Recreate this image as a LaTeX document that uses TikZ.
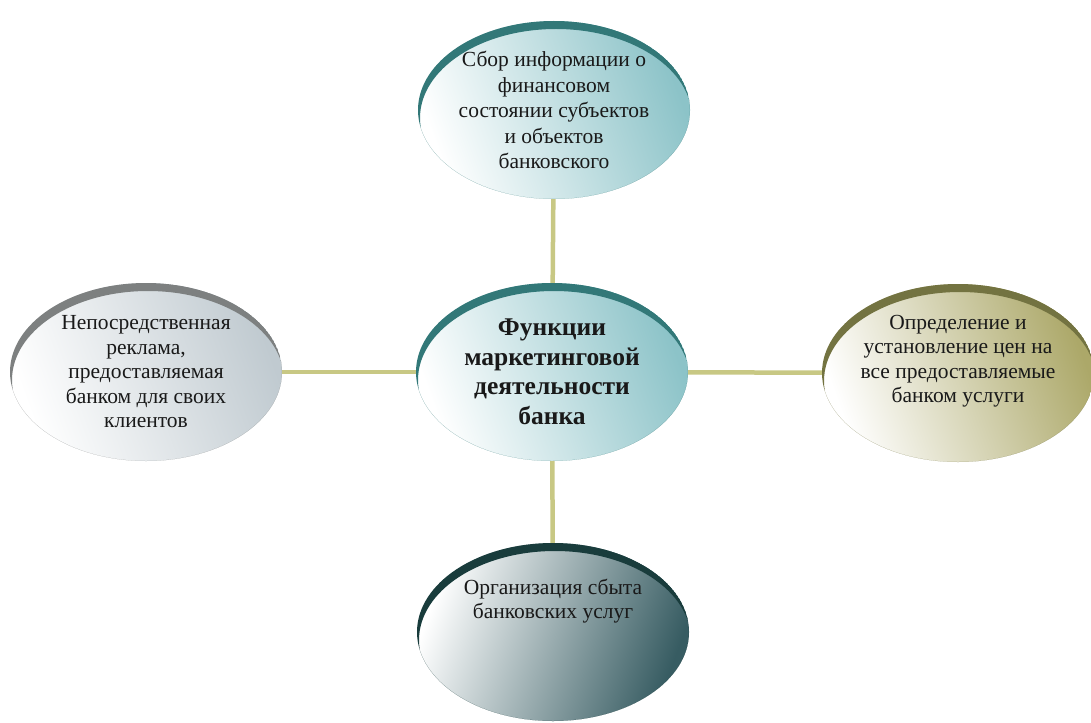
\documentclass[tikz,border=0pt]{standalone}
\usepackage{fontspec}
\setmainfont{Liberation Serif}
\usetikzlibrary{shapes.geometric}

\definecolor{txt}{RGB}{25,25,25}
\definecolor{linkc}{RGB}{200,200,132}
% fill tints and rim colours of the bubbles
\definecolor{fTeal}{RGB}{140,195,200}
\definecolor{rTeal}{RGB}{50,120,120}
\definecolor{fGray}{RGB}{192,202,208}
\definecolor{rGray}{RGB}{125,128,128}
\definecolor{fOlive}{RGB}{172,168,105}
\definecolor{rOlive}{RGB}{115,115,65}
\definecolor{fSlate}{RGB}{55,92,98}
\definecolor{rSlate}{RGB}{25,60,60}

\tikzset{
  % fixed-size bubble; the negative x padding keeps long lines from widening it
  bubble/.style={ellipse, minimum width=272pt, minimum height=178pt,
    inner ysep=0pt, inner xsep=-40pt, align=center, text=txt,
    font=\fontsize{21.5}{24.5}\selectfont},
  % white-to-tint gradient fill
  tint/.style 2 args={top color=#1, middle color=#1!22!white,
    bottom color=white, shading angle=#2},
  % dark crescent along the upper edge of a bubble
  rim/.style={path picture={
    \fill[#1, even odd rule]
      (path picture bounding box.center) ellipse (136pt and 89pt)
      ([shift={(2pt,-8pt)}]path picture bounding box.center) ellipse (136pt and 89pt);}},
  link/.style={draw=linkc, line width=4.5pt},
}

\begin{document}
\begin{tikzpicture}[x=1pt,y=-1pt]
  \useasboundingbox (0,0) rectangle (1091,722);

  \node[bubble, tint={fTeal}{-70}, rim=rTeal,
        font=\fontsize{21.5}{25.5}\selectfont]
    (info) at (554,110)
    {Сбор информации о\\финансовом\\состоянии субъектов\\и объектов\\банковского};

  \node[bubble, tint={fTeal}{-70}, rim=rTeal,
        font=\bfseries\fontsize{25.5}{29.5}\selectfont]
    (core) at (552,372)
    {Функции\\маркетинговой\\деятельности\\банка};

  \node[bubble, tint={fGray}{-70}, rim=rGray]
    (ads) at (146,372)
    {Непосредственная\\реклама,\\предоставляемая\\банком для своих\\клиентов};

  \node[bubble, tint={fOlive}{-70}, rim=rOlive, text depth=28pt]
    (price) at (958,373)
    {Определение и\\установление цен на\\все предоставляемые\\банком услуги};

  \node[bubble, tint={fSlate}{-110}, rim=rSlate, text depth=66pt]
    (sales) at (553,632)
    {Организация сбыта\\банковских услуг};

  \draw[link] (info) -- (core);
  \draw[link] (ads) -- (core);
  \draw[link] (core) -- (price);
  \draw[link] (core) -- (sales);
\end{tikzpicture}
\end{document}
